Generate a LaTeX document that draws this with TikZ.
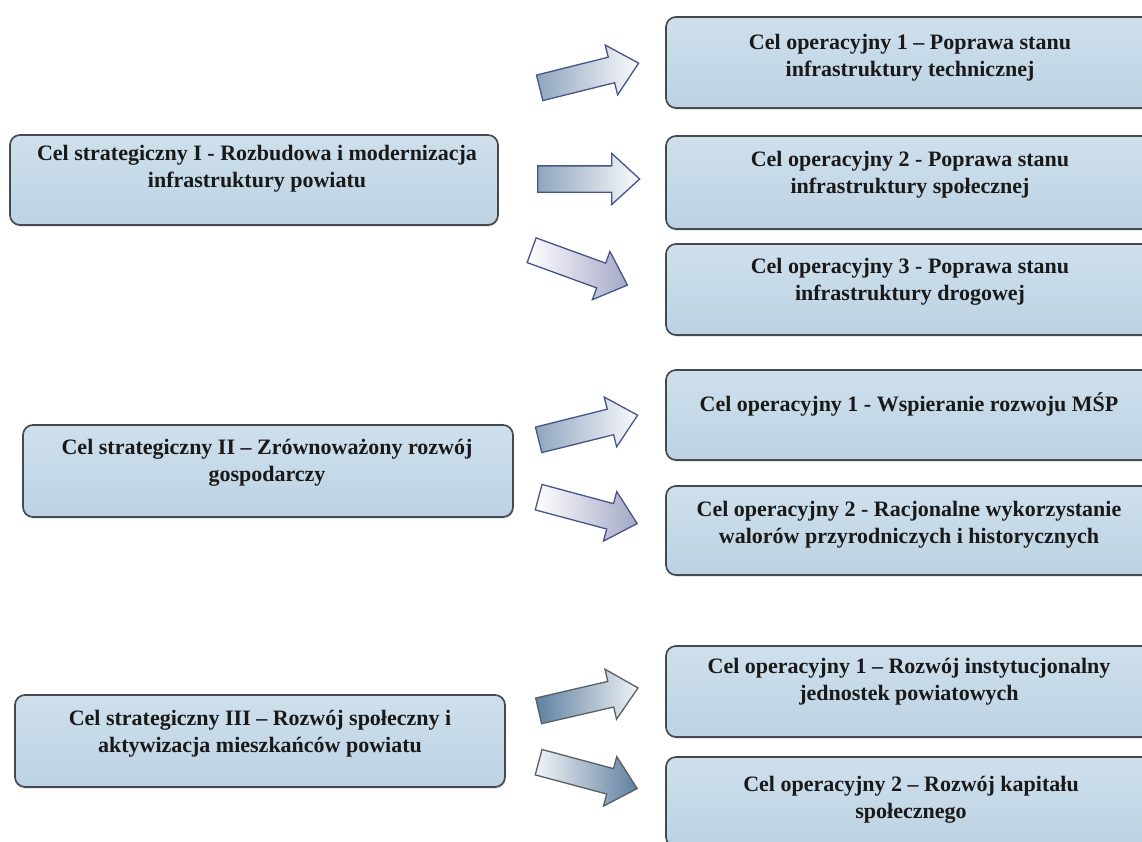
\documentclass[tikz,border=0pt]{standalone}
\usepackage{fontspec}
\setmainfont{Liberation Serif}
\usetikzlibrary{shapes.arrows,shadows}
\definecolor{boxtop}{HTML}{CFE0EC}
\definecolor{boxbot}{HTML}{BCD2E3}
\definecolor{boxline}{HTML}{464A50}
\definecolor{navy}{HTML}{47558A}
\definecolor{greyblue}{HTML}{8FA5BE}
\definecolor{lavgrey}{HTML}{A4A8C6}
\definecolor{steel}{HTML}{5F80A0}
\definecolor{arrline}{HTML}{5A5F66}
\tikzset{
  goalbox/.style={draw=boxline, line width=1.7pt, rounded corners=10pt,
    top color=boxtop, bottom color=boxbot, inner sep=0pt,
    drop shadow={opacity=0.2, shadow xshift=0.8pt, shadow yshift=-1.8pt}},
  opbox/.style={goalbox, minimum width=494pt},
  goaltext/.style={font=\bfseries\fontsize{22}{27}\selectfont, align=center,
    text=black!90, inner sep=0pt},
  barrow/.style={single arrow, draw=navy, line width=1.3pt, inner sep=0pt,
    inner ysep=12.5pt, single arrow head extend=12.5pt,
    single arrow tip angle=85, minimum height=102pt, anchor=tail},
  darkgrad/.style={left color=greyblue, right color=white!95!greyblue},
  lightgrad/.style={left color=white, right color=lavgrey},
  steelgrad/.style={draw=arrline, left color=steel, right color=white!90!steel},
  steelgrad2/.style={draw=arrline, left color=white!92!steel, right color=steel}
}
\begin{document}
\begin{tikzpicture}[x=1pt,y=-1pt]
\useasboundingbox (0,0) rectangle (1142,841);
\fill[white] (0,0) rectangle (1142,841);

% strategic goals
\node[goalbox, minimum width=488pt, minimum height=90pt] (s1) at (254,180) {};
\node[goaltext] (s1t) at (257,169) {Cel strategiczny I - Rozbudowa i modernizacja\\infrastruktury powiatu};

\node[goalbox, minimum width=490pt, minimum height=92pt] (s2) at (268,471) {};
\node[goaltext] (s2t) at (267,463) {Cel strategiczny II – Zrównoważony rozwój\\gospodarczy};

\node[goalbox, minimum width=490pt, minimum height=92pt] (s3) at (260,741) {};
\node[goaltext] (s3t) at (260,734) {Cel strategiczny III – Rozwój społeczny i\\aktywizacja mieszkańców powiatu};

% operational goals
\node[opbox, minimum height=91pt] (o11) at (913,62.5) {};
\node[goaltext] (o11t) at (910,58) {Cel operacyjny 1 – Poprawa stanu\\infrastruktury technicznej};

\node[opbox, minimum height=93pt] (o12) at (913,182.5) {};
\node[goaltext] (o12t) at (910,175) {Cel operacyjny 2 - Poprawa stanu\\infrastruktury społecznej};

\node[opbox, minimum height=91pt] (o13) at (913,289.5) {};
\node[goaltext] (o13t) at (910,282) {Cel operacyjny 3 - Poprawa stanu\\infrastruktury drogowej};

\node[opbox, minimum height=90pt] (o21) at (913,415) {};
\node[goaltext] (o21t) at (909,404) {Cel operacyjny 1 - Wspieranie rozwoju MŚP};

\node[opbox, minimum height=89pt] (o22) at (913,530.5) {};
\node[goaltext] (o22t) at (909,525) {Cel operacyjny 2 - Racjonalne wykorzystanie\\walorów przyrodniczych i historycznych};

\node[opbox, minimum height=91pt] (o31) at (913,691.5) {};
\node[goaltext] (o31t) at (909,682) {Cel operacyjny 1 – Rozwój instytucjonalny\\jednostek powiatowych};

\node[opbox, minimum height=90pt] (o32) at (913,802) {};
\node[goaltext] (o32t) at (911,800) {Cel operacyjny 2 – Rozwój kapitału\\społecznego};

% block arrows
\node[barrow, darkgrad, rotate=14] (a1) at (539,88) {};
\node[barrow, darkgrad, rotate=0] (a2) at (537,179) {};
\node[barrow, lightgrad, rotate=-20] (a3) at (531,250) {};
\node[barrow, darkgrad, rotate=14] (a4) at (538,440) {};
\node[barrow, lightgrad, rotate=-15] (a5) at (538,497) {};
\node[barrow, steelgrad, rotate=13] (a6) at (538,711) {};
\node[barrow, steelgrad2, rotate=-15] (a7) at (538,762) {};
\end{tikzpicture}
\end{document}
